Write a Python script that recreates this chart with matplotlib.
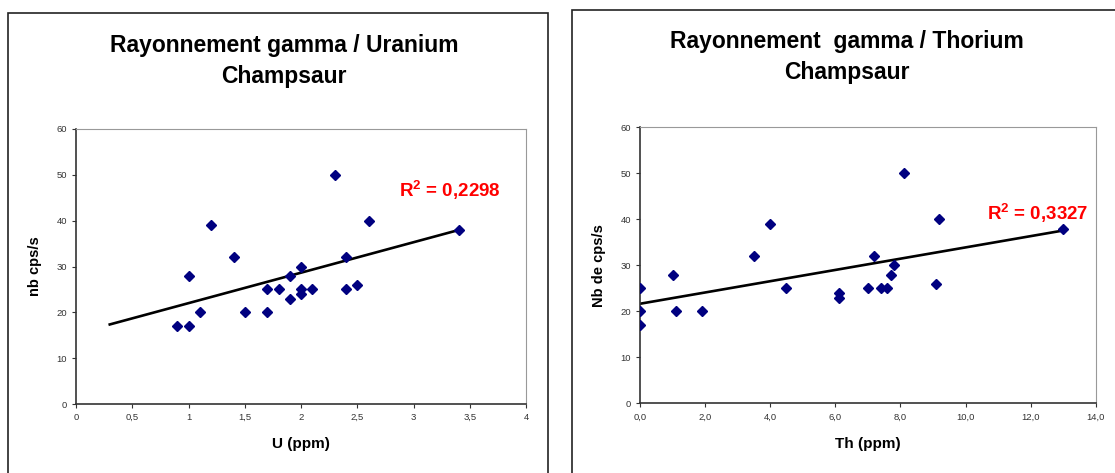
import matplotlib.pyplot as plt
import numpy as np
from matplotlib.patches import Rectangle

plt.rcParams['font.family'] = ['Liberation Sans', 'DejaVu Sans']
plt.rcParams['mathtext.fontset'] = 'custom'
plt.rcParams['mathtext.bf'] = 'Liberation Sans:bold'
plt.rcParams['mathtext.rm'] = 'Liberation Sans'

# Uranium data
u_ppm = [0.9, 1.0, 1.0, 1.1, 1.2, 1.4, 1.5, 1.7, 1.7, 1.8, 1.9, 1.9,
         2.0, 2.0, 2.0, 2.1, 2.3, 2.4, 2.4, 2.5, 2.6, 3.4]
u_cps = [17, 17, 28, 20, 39, 32, 20, 25, 20, 25, 28, 23,
         30, 25, 24, 25, 50, 32, 25, 26, 40, 38]

# Thorium data
th_ppm = [0.0, 0.0, 0.0, 1.0, 1.1, 1.9, 3.5, 4.0, 4.5, 6.1, 6.1,
          7.0, 7.2, 7.4, 7.6, 7.7, 7.8, 8.1, 9.1, 9.2, 13.0]
th_cps = [25, 20, 17, 28, 20, 20, 32, 39, 25, 24, 23,
          25, 32, 25, 25, 28, 30, 50, 26, 40, 38]

r2_labels = [r'R$^{\mathbf{2}}$ = 0,2298', r'R$^{\mathbf{2}}$ = 0,3327']

fig = plt.figure(figsize=(11.15, 4.73), dpi=100)

# outer chart frames (Excel style)
fig.patches.append(Rectangle((8 / 1115, -0.05), 540 / 1115, 1.05 - 13 / 473,
                             transform=fig.transFigure, fill=False,
                             edgecolor='#222222', lw=1.2))
fig.patches.append(Rectangle((572 / 1115, -0.05), 0.6, 1.05 - 10 / 473,
                             transform=fig.transFigure, fill=False,
                             edgecolor='#222222', lw=1.2))

ax1 = fig.add_axes([76 / 1115, 69 / 473, 450 / 1115, 275 / 473])
ax2 = fig.add_axes([640 / 1115, 69.7 / 473, 455.7 / 1115, 276 / 473])


def style(ax):
    for s in ['top', 'right']:
        ax.spines[s].set_color('#999999')
    for s in ['left', 'bottom']:
        ax.spines[s].set_color('#333333')
        ax.spines[s].set_linewidth(1.2)
    ax.tick_params(direction='out', length=3, labelsize=6.8, colors='#333333')
    ax.set_ylim(0, 60)
    ax.set_yticks(range(0, 61, 10))


# left: uranium
ax1.plot(u_ppm, u_cps, 'D', color='#000080', markersize=5.5, zorder=3)
k, b = np.polyfit(u_ppm, u_cps, 1)
xs = np.array([0.3, max(u_ppm)])
ax1.plot(xs, k * xs + b, color='black', lw=1.9)
ax1.set_xlim(0, 4)
ax1.set_xticks([0, 0.5, 1, 1.5, 2, 2.5, 3, 3.5, 4])
ax1.set_xticklabels(['0', '0,5', '1', '1,5', '2', '2,5', '3', '3,5', '4'])
style(ax1)
ax1.set_xlabel('U (ppm)', fontsize=11, fontweight='bold', labelpad=11)
ax1.set_ylabel('nb cps/s', fontsize=10.5, fontweight='bold', labelpad=10)
ax1.text(2.87, 46.7, r2_labels[0], color='red', fontsize=13.5,
         fontweight='bold', va='center')

# right: thorium
ax2.plot(th_ppm, th_cps, 'D', color='#000080', markersize=5.5, zorder=3)
k2, b2 = np.polyfit(th_ppm, th_cps, 1)
xs2 = np.array([min(th_ppm), max(th_ppm)])
ax2.plot(xs2, k2 * xs2 + b2, color='black', lw=1.9)
ax2.set_xlim(0, 14)
ax2.set_xticks(range(0, 15, 2))
ax2.set_xticklabels([f'{v:.1f}'.replace('.', ',') for v in range(0, 15, 2)])
style(ax2)
ax2.set_xlabel('Th (ppm)', fontsize=11, fontweight='bold', labelpad=11)
ax2.set_ylabel('Nb de cps/s', fontsize=10.5, fontweight='bold', labelpad=10)
ax2.text(10.65, 41.4, r2_labels[1], color='red', fontsize=13.5,
         fontweight='bold', va='center')

fig.text(284 / 1115, 1 - 61 / 473, 'Rayonnement gamma / Uranium\nChampsaur',
         ha='center', va='center', fontsize=16.5, fontweight='bold',
         linespacing=1.4)
fig.text(847 / 1115, 1 - 57 / 473, 'Rayonnement  gamma / Thorium\nChampsaur',
         ha='center', va='center', fontsize=16.5, fontweight='bold',
         linespacing=1.4)

fig.savefig('out.png', dpi=100)
